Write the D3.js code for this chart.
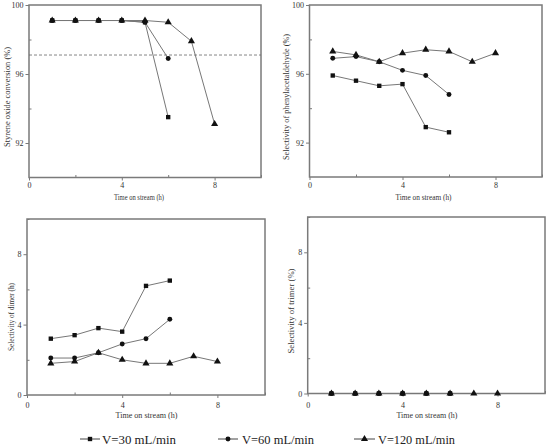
<!DOCTYPE html>
<html><head><meta charset="utf-8">
<script src="https://cdn.jsdelivr.net/npm/d3@7"></script>
<style>body{margin:0;background:#fff}svg{display:block}</style>
</head><body>
<svg id="c" width="547" height="446"></svg>
<script>
// ---- data ----
const times30 = [1, 2, 3, 4, 5, 6];
const times60 = [1, 2, 3, 4, 5, 6];
const times120 = [1, 2, 3, 4, 5, 6, 7, 8];
const seriesNames = ["V=30 mL/min", "V=60 mL/min", "V=120 mL/min"];

const conv30 = [99.1, 99.1, 99.1, 99.1, 99.0, 93.5];
const conv60 = [99.1, 99.1, 99.1, 99.1, 99.0, 96.9];
const conv120 = [99.1, 99.1, 99.1, 99.1, 99.1, 99.0, 97.9, 93.1];

const sel30 = [95.9, 95.6, 95.3, 95.4, 92.9, 92.6];
const sel60 = [96.9, 97.0, 96.7, 96.2, 95.9, 94.8];
const sel120 = [97.3, 97.1, 96.7, 97.2, 97.4, 97.3, 96.7, 97.2];

const dim30 = [3.2, 3.4, 3.8, 3.6, 6.2, 6.5];
const dim60 = [2.1, 2.1, 2.4, 2.9, 3.2, 4.3];
const dim120 = [1.8, 1.9, 2.4, 2.0, 1.8, 1.8, 2.2, 1.9];

const tri30 = [0, 0, 0, 0, 0, 0];
const tri60 = [0, 0, 0, 0, 0, 0];
const tri120 = [0, 0, 0, 0, 0, 0, 0, 0];

const conversionThreshold = 97.1;

const xMajorTicks = [0, 4, 8];
const xMinorTicks = [2, 6, 10];
const yMajorTop = [92, 96, 100];
const yMinorTop = [94, 98];
const yMajorBottom = [0, 4, 8];
const yMinorBottom = [2, 6, 10];

const xTitle = "Time on stream (h)";
const yTitles = ["Styrene oxide conversion (%)", "Selectivity of phenylacetaldehyde (%)",
                 "Selectivity of dimer (h)", "Selectivity of trimer (%)"];

// ---- layout ----
const svg = d3.select("#c");
const FONT = "'Liberation Serif','Times New Roman',serif";
const AX = "#7a7a7a";
const LINE = "#777";

const panels = [
  {l: 29, r: 261, t: 5, b: 177.5, yd: [90, 100], ym: yMajorTop, yn: yMinorTop,
   s: [conv30, conv60, conv120], yt: yTitles[0], ytx: 7, yty: 97, ytl: 100,
   xtx: 139, xty: 199.5, xtl: 50, tly: 188, ref: conversionThreshold},
  {l: 309.5, r: 542, t: 5, b: 177, yd: [90, 100], ym: yMajorTop, yn: yMinorTop,
   s: [sel30, sel60, sel120], yt: yTitles[1], ytx: 286, yty: 97, ytl: 126,
   xtx: 423.5, xty: 199.5, xtl: 56, tly: 188},
  {l: 27, r: 265, t: 219, b: 395, yd: [0, 10], ym: yMajorBottom, yn: yMinorBottom,
   s: [dim30, dim60, dim120], yt: yTitles[2], ytx: 11, yty: 317, ytl: 68,
   xtx: 146.5, xty: 418, xtl: 62, tly: 408},
  {l: 307.7, r: 545, t: 217, b: 393.5, yd: [0, 10], ym: yMajorBottom, yn: yMinorBottom,
   s: [tri30, tri60, tri120], yt: yTitles[3], ytx: 291, yty: 311, ytl: 85,
   xtx: 427, xty: 418, xtl: 61, tly: 408}
];
const timesList = [times30, times60, times120];
const symbols = [d3.symbolSquare, d3.symbolCircle, d3.symbolTriangle];
const symSizes = [19, 19, 22];

panels.forEach(p => {
  const x = d3.scaleLinear().domain([0, 10]).range([p.l, p.r]);
  const y = d3.scaleLinear().domain(p.yd).range([p.b, p.t]);
  const g = svg.append("g");

  // minor ticks (inward)
  g.append("g").attr("transform", `translate(0,${p.b})`)
    .call(d3.axisBottom(x).tickValues(xMinorTicks).tickSize(-2.5).tickFormat(""))
    .call(a => a.select(".domain").remove())
    .call(a => a.selectAll("line").attr("stroke", AX).attr("stroke-width", 1));
  g.append("g").attr("transform", `translate(${p.l},0)`)
    .call(d3.axisLeft(y).tickValues(p.yn).tickSize(-2.5).tickFormat(""))
    .call(a => a.select(".domain").remove())
    .call(a => a.selectAll("line").attr("stroke", AX).attr("stroke-width", 1));

  // major axes
  const xa = g.append("g").attr("transform", `translate(0,${p.b})`)
    .call(d3.axisBottom(x).tickValues(xMajorTicks).tickSize(3).tickPadding(2).tickFormat(d3.format("d")));
  const ya = g.append("g").attr("transform", `translate(${p.l},0)`)
    .call(d3.axisLeft(y).tickValues(p.ym).tickSize(3.5).tickPadding(2).tickFormat(d3.format("d")));
  [xa, ya].forEach(a => {
    a.select(".domain").remove();
    a.selectAll("line").attr("stroke", AX).attr("stroke-width", 1);
    a.selectAll("text").attr("font-family", FONT).attr("font-size", 8).attr("fill", "#333");
  });
  xa.selectAll("text").attr("y", null).attr("dy", null)
    .attr("transform", `translate(0,${p.tly - p.b})`);

  // frame
  g.append("rect").attr("x", p.l).attr("y", p.t)
    .attr("width", p.r - p.l).attr("height", p.b - p.t)
    .attr("fill", "none").attr("stroke", AX).attr("stroke-width", 1.5);

  // reference line
  if (p.ref !== undefined) {
    g.append("line").attr("x1", p.l).attr("x2", p.r)
      .attr("y1", y(p.ref)).attr("y2", y(p.ref))
      .attr("stroke", "#666").attr("stroke-width", 0.8).attr("stroke-dasharray", "3,2");
  }

  // series
  p.s.forEach((vals, si) => {
    const pts = vals.map((v, i) => [timesList[si][i], v]);
    g.append("path").datum(pts)
      .attr("d", d3.line().x(d => x(d[0])).y(d => y(d[1])))
      .attr("fill", "none").attr("stroke", LINE).attr("stroke-width", 1);
  });
  p.s.forEach((vals, si) => {
    const pts = vals.map((v, i) => [timesList[si][i], v]);
    g.selectAll(null).data(pts).enter().append("path")
      .attr("d", d3.symbol().type(symbols[si]).size(symSizes[si]))
      .attr("transform", d => `translate(${x(d[0])},${y(d[1])})`)
      .attr("fill", "#111");
  });

  // titles
  g.append("text").attr("x", p.xtx).attr("y", p.xty).attr("text-anchor", "middle")
    .attr("font-family", FONT).attr("font-size", 9).attr("fill", "#333")
    .attr("textLength", p.xtl).attr("lengthAdjust", "spacingAndGlyphs").text(xTitle);
  g.append("text").attr("transform", `translate(${p.ytx},${p.yty}) rotate(-90)`)
    .attr("text-anchor", "middle").attr("dy", "0.35em")
    .attr("font-family", FONT).attr("font-size", 9).attr("fill", "#333")
    .attr("textLength", p.ytl).attr("lengthAdjust", "spacingAndGlyphs").text(p.yt);
});

// legend
const legendItems = [
  {x1: 80, x2: 100, tx: 102, tl: 74},
  {x1: 218, x2: 238, tx: 242, tl: 72},
  {x1: 354, x2: 375, tx: 378, tl: 77}
];
const ly = 439;
legendItems.forEach((it, i) => {
  const lg = svg.append("g");
  lg.append("line").attr("x1", it.x1).attr("x2", it.x2).attr("y1", ly).attr("y2", ly)
    .attr("stroke", "#444").attr("stroke-width", 1);
  lg.append("path").attr("d", d3.symbol().type(symbols[i]).size(symSizes[i]))
    .attr("transform", `translate(${(it.x1 + it.x2) / 2},${ly})`).attr("fill", "#111");
  lg.append("text").attr("x", it.tx).attr("y", ly + 4.5)
    .attr("font-family", FONT).attr("font-size", 13.5).attr("fill", "#222")
    .attr("textLength", it.tl).attr("lengthAdjust", "spacingAndGlyphs").text(seriesNames[i]);
});
</script>
</body></html>
